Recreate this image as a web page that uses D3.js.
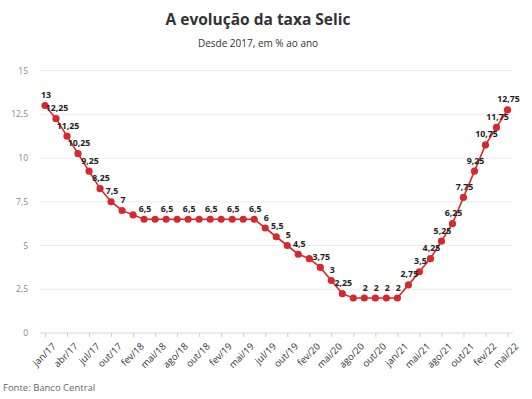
<!DOCTYPE html>
<html>
<head>
<meta charset="utf-8">
<script src="https://cdn.jsdelivr.net/npm/d3@7"></script>
<style>
  body { margin: 0; background: #fff; }
  text { font-family: "Open Sans", sans-serif; }
</style>
</head>
<body>
<div id="chart"></div>
<script>
// reuniões do Copom, jan/17 a mai/22
const meetings = [
  'jan/17','fev/17','abr/17','mai/17','jul/17','set/17','out/17','dez/17',
  'fev/18','mar/18','mai/18','jun/18','ago/18','set/18','out/18','dez/18',
  'fev/19','mar/19','mai/19','jun/19','jul/19','set/19','out/19','dez/19',
  'fev/20','mar/20','mai/20','jun/20','ago/20','set/20','out/20','dez/20',
  'jan/21','mar/21','mai/21','jun/21','ago/21','set/21','out/21','dez/21',
  'fev/22','mar/22','mai/22'
];
const selic = [
  13, 12.25, 11.25, 10.25, 9.25, 8.25, 7.5, 7,
  6.75, 6.5, 6.5, 6.5, 6.5, 6.5, 6.5, 6.5,
  6.5, 6.5, 6.5, 6.5, 6, 5.5, 5, 4.5,
  4.25, 3.75, 3, 2.25, 2, 2, 2, 2,
  2, 2.75, 3.5, 4.25, 5.25, 6.25, 7.75, 9.25,
  10.75, 11.75, 12.75
];
// pontos sem rótulo no original
const hiddenLabels = [8, 10, 12, 14, 16, 18, 24, 28];
const yTickValues = [0, 2.5, 5, 7.5, 10, 12.5, 15];

const width = 532, height = 399;
const left = 40, right = 513;
const red = '#d7282f';

const data = meetings.map((m, i) => ({ month: m, value: selic[i], i }));
const fmt = v => String(v).replace('.', ',');

const svg = d3.select('#chart').append('svg')
  .attr('width', width)
  .attr('height', height);

const xScale = d3.scalePoint()
  .domain(meetings)
  .range([45, 507.5]);

const yScale = d3.scaleLinear()
  .domain([0, 15])
  .range([333, 70.5]);

// titulo
svg.append('text')
  .attr('x', 258).attr('y', 25)
  .attr('text-anchor', 'middle')
  .style('font-size', '15.5px').style('font-weight', 'bold')
  .style('fill', '#333')
  .text('A evolução da taxa Selic');

svg.append('text')
  .attr('x', 258).attr('y', 47)
  .attr('text-anchor', 'middle')
  .style('font-size', '10px')
  .style('fill', '#333')
  .text('Desde 2017, em % ao ano');

// grid
svg.append('g')
  .selectAll('line')
  .data(yTickValues.filter(d => d > 0))
  .join('line')
  .attr('x1', left).attr('x2', right)
  .attr('y1', d => yScale(d)).attr('y2', d => yScale(d))
  .attr('stroke', '#ececec');

const yAxisG = svg.append('g')
  .attr('transform', `translate(${left},0)`)
  .call(d3.axisLeft(yScale).tickValues(yTickValues).tickFormat(fmt).tickSize(0).tickPadding(12));
yAxisG.select('.domain').remove();
yAxisG.selectAll('text')
  .style('font-family', '"Open Sans", sans-serif')
  .style('font-size', '8.5px')
  .style('fill', '#888');

// eixo x
svg.append('line')
  .attr('x1', left).attr('x2', right)
  .attr('y1', yScale(0)).attr('y2', yScale(0))
  .attr('stroke', '#d8d8d8');

const xAxisG = svg.append('g')
  .attr('transform', `translate(0,${yScale(0)})`)
  .call(d3.axisBottom(xScale)
    .tickValues(meetings.filter((d, i) => i % 2 === 0))
    .tickSize(4)
    .tickPadding(4));
xAxisG.select('.domain').remove();
xAxisG.selectAll('.tick line').attr('stroke', '#ccc');
xAxisG.selectAll('text')
  .style('font-family', '"Open Sans", sans-serif')
  .style('font-size', '9.5px')
  .style('fill', '#333')
  .attr('text-anchor', 'end')
  .attr('dy', '0.35em')
  .attr('transform', 'translate(3,6) rotate(-45)');

// linha
const line = d3.line()
  .x(d => xScale(d.month))
  .y(d => yScale(d.value));

svg.append('path')
  .datum(data)
  .attr('fill', 'none')
  .attr('stroke', red)
  .attr('stroke-width', 1.6)
  .attr('d', line);

svg.append('g')
  .selectAll('circle')
  .data(data)
  .join('circle')
  .attr('cx', d => xScale(d.month))
  .attr('cy', d => yScale(d.value))
  .attr('r', 3.6)
  .attr('fill', red);

svg.append('g')
  .selectAll('text')
  .data(data.filter(d => !hiddenLabels.includes(d.i)))
  .join('text')
  .attr('x', d => xScale(d.month) + 1)
  .attr('y', d => yScale(d.value) - 7.5)
  .attr('text-anchor', 'middle')
  .style('font-size', '8.8px')
  .style('font-weight', 'bold')
  .style('fill', '#222')
  .text(d => fmt(d.value));

// fonte
svg.append('text')
  .attr('x', 3).attr('y', 391)
  .style('font-size', '9.5px')
  .style('fill', '#666')
  .text('Fonte: Banco Central');
</script>
</body>
</html>
